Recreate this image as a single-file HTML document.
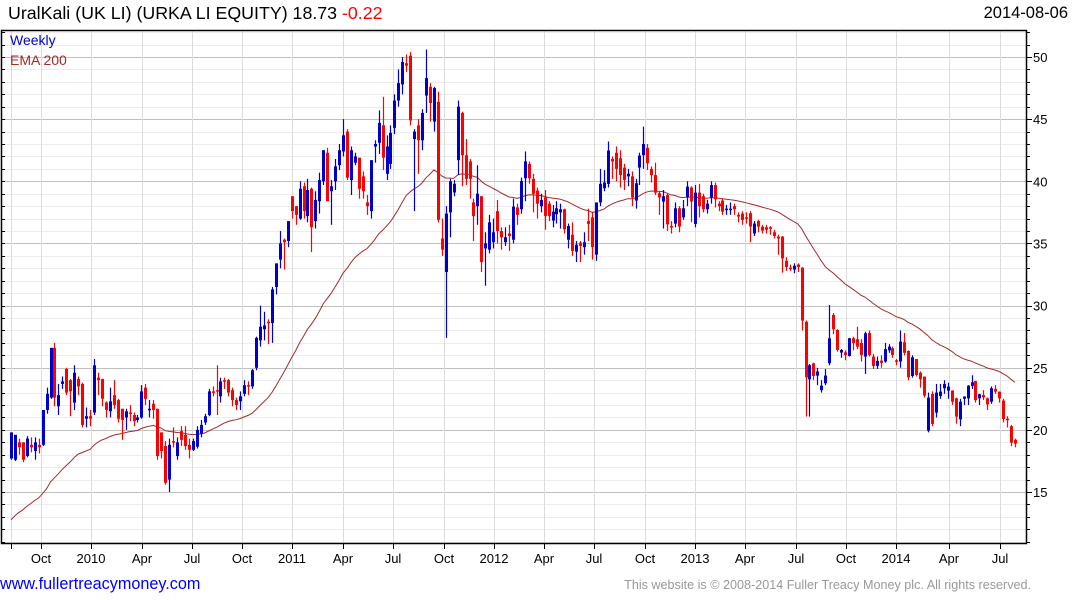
<!DOCTYPE html>
<html><head><meta charset="utf-8">
<style>
html,body{margin:0;padding:0;background:#fff;}
body{width:1075px;height:600px;position:relative;overflow:hidden;font-family:"Liberation Sans",Arial,sans-serif;}
.t{position:absolute;white-space:nowrap;}
</style></head>
<body>
<div class="t" style="left:8px;top:3px;font-size:17.8px;color:#000;">UralKali (UK LI) (URKA LI EQUITY) 18.73 <span style="color:#ff0000;">-0.22</span></div>
<div class="t" style="right:7px;top:4px;font-size:16.5px;color:#000;">2014-08-06</div>
<svg id="chart" width="1075" height="600" style="position:absolute;left:0;top:0;" xmlns="http://www.w3.org/2000/svg"></svg>
<div class="t" style="left:10px;top:32px;font-size:14px;color:#0000cc;">Weekly</div>
<div class="t" style="left:10px;top:52px;font-size:14px;color:#a52a2a;">EMA 200</div>
<a class="t" style="left:0px;top:575px;font-size:16.2px;color:#0000ff;text-decoration:none;">www.fullertreacymoney.com</a>
<div class="t" style="right:44px;top:578px;font-size:12.6px;color:#999;">This website is © 2008-2014 Fuller Treacy Money plc. All rights reserved.</div>
<script>
const opens=[17.7,17.6,19.0,19.0,17.9,18.8,18.3,18.8,18.8,21.6,22.6,26.6,21.9,23.7,24.9,24.0,22.2,24.1,23.7,20.9,21.1,21.4,24.2,24.1,22.2,21.5,22.8,22.4,21.7,21.0,21.4,21.2,20.8,21.0,23.4,21.6,22.1,21.7,19.8,18.7,16.0,19.1,17.9,19.9,19.6,18.8,18.4,18.65,19.7,20.6,21.2,23.1,23.2,22.7,24.0,24.0,23.2,22.4,22.3,22.9,23.6,23.5,25.0,27.2,28.1,28.7,28.6,31.5,33.7,35.3,35.2,38.8,38.0,37.0,39.6,37.2,39.4,36.8,38.4,40.0,42.3,39.2,40.0,41.3,42.4,44.0,40.1,41.5,41.9,40.4,38.3,37.6,42.8,43.1,44.5,40.6,41.4,44.3,46.5,47.8,49.5,50.1,43.4,44.5,43.3,46.9,47.6,44.8,46.4,35.4,32.7,37.5,39.1,41.7,45.5,42.1,41.6,38.3,38.0,38.8,34.6,34.5,35.1,37.6,36.0,35.1,35.8,35.3,37.9,37.75,40.24,41.4,40.2,39.25,38.0,38.7,38.2,36.84,37.35,37.5,37.75,35.3,35.7,34.34,35.07,34.7,36.8,37.1,34.1,38.3,39.44,39.79,41.8,42.3,41.85,41.1,40.4,40.4,38.45,41.1,42.1,42.7,41.0,40.5,39.04,38.37,38.9,36.4,36.6,37.83,37.1,38.7,39.5,36.57,39.09,38.8,37.75,38.7,39.7,38.2,38.45,37.7,37.7,38.0,37.3,37.4,37.1,37.43,35.8,36.8,36.35,36.3,36.3,35.9,35.55,35.55,33.6,33.05,32.9,33.3,33.05,28.7,24.07,25.36,24.37,23.2,23.75,25.36,29.25,28.04,26.22,26.24,25.95,27.37,27.3,27.0,25.9,27.8,25.9,25.15,25.57,25.5,26.4,26.57,25.6,25.5,27.05,26.35,24.34,25.7,24.6,24.29,19.94,22.89,21.39,22.73,23.35,23.16,23.16,22.54,20.85,22.5,22.54,23.54,23.94,22.54,22.81,22.54,22.27,23.3,23.08,22.36,20.9,20.3,19.2];
const closes=[19.8,19.6,18.6,17.6,19.3,18.6,19.0,18.6,21.6,22.9,26.6,22.6,22.8,23.9,23.0,23.1,24.6,23.5,20.4,21.1,20.9,25.2,24.0,22.5,21.6,22.3,22.0,20.9,20.8,21.5,21.3,20.7,21.0,23.1,22.5,21.7,21.6,17.9,18.3,15.75,18.8,19.0,19.0,19.2,18.7,18.4,19.1,20.0,20.4,21.1,23.1,23.0,23.1,23.9,23.9,23.0,22.4,22.0,22.7,23.6,23.5,24.8,27.4,28.3,28.4,28.6,31.3,33.4,35.0,35.1,36.8,37.6,37.3,39.4,37.6,39.3,36.3,38.5,40.1,42.5,38.4,39.6,41.2,42.5,43.7,40.3,42.5,42.0,39.4,39.2,38.0,41.7,43.0,44.7,41.9,42.8,43.9,46.5,47.9,49.6,49.3,44.9,44.0,43.3,45.5,48.3,46.3,47.5,36.9,34.5,37.4,40.0,39.8,46.0,42.1,40.2,40.2,37.2,39.0,33.5,35.0,36.7,35.9,36.0,35.5,35.5,35.6,37.96,37.3,40.03,41.6,40.24,39.0,38.2,38.5,37.2,37.2,37.56,37.83,37.75,36.14,36.4,34.4,34.9,34.8,35.1,36.57,34.7,38.3,39.8,39.9,42.47,41.6,41.0,40.5,40.1,40.6,38.7,39.84,42.07,43.0,41.45,40.5,39.09,38.7,38.8,36.54,36.36,37.83,36.36,37.83,39.57,38.37,39.09,38.0,37.75,38.2,39.7,38.55,38.0,37.56,37.8,37.8,37.75,37.16,36.9,37.0,36.36,36.6,36.35,36.03,36.1,36.2,35.6,35.4,33.8,33.1,33.0,33.2,33.1,28.8,24.23,25.2,24.34,24.7,23.56,24.37,27.37,28.1,26.43,26.43,26.03,27.37,27.0,26.7,26.03,27.77,26.03,25.15,25.55,25.4,26.5,26.7,26.03,25.5,27.1,26.2,24.23,25.84,24.42,24.07,22.76,22.6,20.48,23.0,23.08,23.7,23.48,22.27,21.07,22.27,22.68,23.56,23.83,22.4,22.87,22.62,22.06,23.35,23.08,22.54,20.88,20.88,18.98,18.9];
const highs=[19.8,19.6,19.3,19.0,19.5,19.4,19.4,19.3,21.6,23.4,26.6,27.0,23.7,24.3,25.0,24.1,25.2,24.3,23.8,21.8,21.6,25.7,24.6,24.1,22.3,23.4,24.0,22.5,21.7,21.7,22.0,21.4,21.2,23.6,23.7,22.4,22.4,21.7,19.8,19.1,19.3,20.2,19.4,20.3,20.3,19.3,19.3,20.3,20.8,21.3,23.3,23.5,25.2,24.2,24.2,24.1,23.4,22.6,23.1,24.0,23.9,24.9,27.5,30.0,29.5,28.9,31.5,33.4,36.0,35.4,36.8,38.8,38.0,40.0,39.9,40.2,39.5,39.2,40.7,42.5,42.7,40.1,41.8,43.0,45.0,44.2,42.8,42.3,41.9,40.8,38.9,41.7,43.3,45.7,46.8,43.7,44.5,47.0,49.0,50.0,50.2,50.4,44.2,45.0,45.8,50.6,47.9,47.6,47.2,37.0,38.0,40.2,40.1,46.5,45.6,43.4,41.8,38.6,41.3,38.8,35.9,37.3,37.0,38.5,36.3,36.3,36.5,38.6,38.2,40.3,42.4,41.6,40.6,39.5,39.0,39.3,38.4,38.1,38.4,38.2,37.8,36.6,36.7,35.2,35.2,35.9,37.8,37.5,38.3,41.0,40.9,43.2,42.0,42.8,42.5,41.4,41.0,40.8,40.2,42.3,44.4,43.0,41.2,41.5,39.2,39.3,39.0,36.8,38.3,38.0,38.5,40.0,39.6,39.7,39.8,39.0,38.5,40.0,39.9,38.4,38.6,38.1,38.3,38.2,37.5,37.6,37.5,37.6,36.8,36.9,36.5,36.5,36.4,36.1,35.7,35.6,33.9,33.3,33.4,33.4,33.1,28.8,25.3,25.4,25.0,24.0,24.9,30.05,29.4,28.1,26.5,26.4,27.4,27.5,28.3,27.3,27.9,28.0,26.1,25.9,26.0,27.0,26.9,26.7,25.7,28.0,27.8,26.4,26.0,25.7,24.7,24.3,23.0,23.1,23.7,23.7,24.0,23.8,23.2,22.6,22.5,22.7,23.6,24.4,23.95,22.9,23.2,22.6,23.5,23.6,23.1,22.5,21.1,20.4,19.3];
const lows=[17.6,17.5,18.0,17.4,17.8,18.2,17.6,18.1,18.7,21.3,22.5,21.9,21.2,23.3,22.8,21.1,21.6,22.8,20.2,20.2,20.3,21.2,22.8,21.9,21.0,21.0,21.7,20.6,19.2,20.0,20.7,20.3,20.6,20.9,22.0,21.0,20.9,17.6,17.7,15.6,15.0,18.6,17.6,18.7,18.4,17.7,18.3,18.5,19.4,20.4,21.1,22.7,21.2,22.2,23.3,22.7,21.9,21.6,21.6,22.7,22.8,23.3,24.8,26.7,27.2,26.9,27.0,30.9,33.0,32.9,34.7,37.0,36.5,36.9,37.0,36.7,34.3,36.2,37.4,39.7,38.4,36.5,39.3,40.9,42.0,40.1,38.9,41.3,38.6,38.6,37.3,37.0,41.5,42.2,40.9,40.1,41.0,43.8,46.0,47.0,48.8,44.5,37.6,40.6,42.5,45.5,44.8,44.0,36.7,34.0,27.4,35.5,38.8,40.5,39.6,39.7,38.6,35.2,36.5,32.7,31.6,34.2,34.6,35.0,34.5,34.8,34.4,35.0,36.5,37.4,38.4,39.8,37.5,37.0,37.5,36.1,36.8,36.3,36.6,36.2,35.8,34.6,34.0,33.5,33.5,34.1,35.2,33.7,33.6,38.0,39.2,39.5,40.2,40.0,39.5,39.3,39.6,38.0,37.8,39.7,41.0,40.9,39.9,38.9,37.3,36.2,36.0,35.8,36.3,35.9,36.9,38.0,36.7,36.3,37.1,37.5,37.4,38.2,37.9,37.6,37.3,37.3,37.3,37.3,36.7,36.5,36.6,35.1,35.6,35.9,35.8,35.8,35.7,35.4,34.1,32.65,32.8,32.8,32.6,32.7,28.0,21.07,21.07,24.0,23.6,23.0,23.6,25.2,27.7,26.3,25.8,25.6,25.9,26.4,26.5,25.5,24.5,25.9,24.9,24.9,25.0,25.4,26.2,25.8,25.2,25.0,26.0,24.0,24.2,24.3,23.4,22.6,19.8,20.3,21.0,22.5,22.9,22.5,22.0,20.5,20.3,22.0,22.0,23.3,22.2,22.0,22.4,21.6,22.1,22.9,22.2,20.6,20.2,18.7,18.6];
const emaSeed=[12.4];
const yTicks=[15,20,25,30,35,40,45,50];
const xLabels=["","Oct","2010","Apr","Jul","Oct","2011","Apr","Jul","Oct","2012","Apr","Jul","Oct","2013","Apr","Jul","Oct","2014","Apr","Jul"];
const xLabelPos=[11,41,91,142,192,242,292,343,393,444,494,544,594,645,695,745,796,846,896,949,1000];

const svg=document.getElementById('chart');
const NS="http://www.w3.org/2000/svg";
const L=1,R=1026,T=30,B=543;
function y(p){return 57+(50-p)*12.43;}
const n=closes.length;
function x(i){return 11+i*(1015-11)/(n-1);}
function mk(tag,attrs){const e=document.createElementNS(NS,tag);for(const k in attrs)e.setAttribute(k,attrs[k]);svg.appendChild(e);return e;}

for(let p=11;p<=52;p++){
  const yy=Math.round(y(p))+0.5;
  const e=mk('line',{x1:L,x2:R,y1:yy,y2:yy,stroke:p%5===0?'#c0c0c0':'#ececec','stroke-width':1});
  
  
  const tk=mk('line',{x1:R,x2:R+(p%5===0?6:4),y1:yy,y2:yy,stroke:'#000'});
  
  
  const tl=mk('line',{x1:L,x2:L+4,y1:yy,y2:yy,stroke:'#000'});
  
  
}
xLabelPos.forEach((px,k)=>{
  const g=mk('line',{x1:px+0.5,x2:px+0.5,y1:T,y2:B,stroke:'#dcdcdc'});
  
  
  const tk=mk('line',{x1:px+0.5,x2:px+0.5,y1:B,y2:B+6,stroke:'#000'});
  
  
  if(xLabels[k]){
    const t=mk('text',{x:px,y:563,'text-anchor':'middle','font-size':13,'font-family':'Liberation Sans, Arial, sans-serif',fill:'#000'});
    t.textContent=xLabels[k];
    
    
  }
});
yTicks.forEach(v=>{
  const t=mk('text',{x:1033,y:y(v)+5,'font-size':13,'font-family':'Liberation Sans, Arial, sans-serif',fill:'#000'});
  t.textContent=v;
  
  
});
let e=emaSeed[0];const k=2/41;let d='';
for(let i=0;i<n;i++){e=e+k*(closes[i]-e);d+=(i?'L':'M')+x(i).toFixed(1)+' '+y(e).toFixed(1);}
const ema=mk('path',{d:d,fill:'none',stroke:'#a52a2a','stroke-width':1});


for(let i=0;i<n;i++){
  const up=closes[i]>=opens[i];const col=up?'#0000cc':'#ff0000';
  const cx=Math.round(x(i))+0.5;
  const w=mk('line',{x1:cx,x2:cx,y1:y(highs[i]),y2:y(lows[i]),stroke:col,'stroke-width':1.2});
  
  
  const top=y(Math.max(opens[i],closes[i])),bot=y(Math.min(opens[i],closes[i]));
  const b=mk('rect',{x:cx-1.5,y:top,width:3,height:Math.max(1.5,bot-top),fill:col});
  
  
}
const f=mk('path',{d:`M${L+0.5} ${T+0.5}H${R+0.5}V${B+0.5}H${L+0.5}Z`,fill:'none',stroke:'#000','stroke-width':1.5});


</script>
</body></html>
